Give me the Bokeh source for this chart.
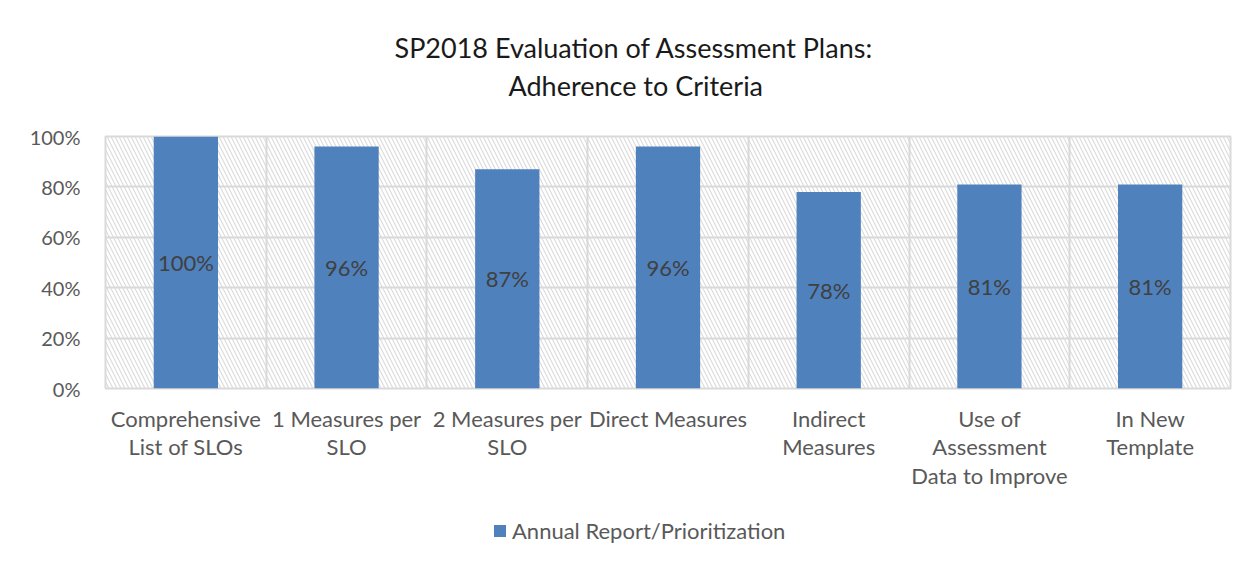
from bokeh.plotting import figure
from bokeh.layouts import column
from bokeh.models import (ColumnDataSource, BoxAnnotation, Title,
                          Legend, LegendItem, FixedTicker, NumeralTickFormatter)
from bokeh.embed import file_html
from bokeh.resources import INLINE
from bokeh.core.properties import value

categories = ["Comprehensive List of SLOs", "1 Measures per SLO", "2 Measures per SLO",
              "Direct Measures", "Indirect Measures", "Use of Assessment Data to Improve",
              "In New Template"]
tick_labels = ["Comprehensive\nList of SLOs", "1 Measures per\nSLO", "2 Measures per\nSLO",
               "Direct Measures", "Indirect\nMeasures", "Use of\nAssessment\nData to Improve",
               "In New\nTemplate"]
values = [1.00, 0.96, 0.87, 0.96, 0.78, 0.81, 0.81]
series_name = "Annual Report/Prioritization"
title_lines = ["SP2018 Evaluation of Assessment Plans:", "Adherence to Criteria"]
y_ticks = [0, 0.2, 0.4, 0.6, 0.8, 1.0]

FONT = "Lato"
GRID = "#d9d9d9"
TXT = "#595959"
BAR = "#4F81BD"

pos = list(range(len(categories)))
src = ColumnDataSource(dict(
    x=pos,
    val=values,
    mid=[v / 2 for v in values],
    lab=[f"{round(v * 100)}%" for v in values],
))

p = figure(x_range=(-0.5, len(categories) - 0.5), y_range=(0, 1.0),
           frame_width=1125, frame_height=252, output_backend="svg", toolbar_location=None,
           min_border_left=105, min_border_right=24, min_border_top=136, min_border_bottom=114)
p.background_fill_color = "white"
p.border_fill_color = "white"
p.outline_line_color = GRID
p.outline_line_width = 2

# hatched plot-area background
hatch = BoxAnnotation(fill_alpha=0, line_color=None, hatch_pattern="left_diagonal_line",
                      hatch_color="#dcdcdc", hatch_scale=8, hatch_weight=1.2, level="image")
p.add_layout(hatch)

# grids
p.ygrid.grid_line_color = GRID
p.ygrid.grid_line_width = 2
p.xgrid.grid_line_color = GRID
p.xgrid.grid_line_width = 2
p.xgrid.ticker = FixedTicker(ticks=[i + 0.5 for i in pos[:-1]])

bars = p.vbar(x="x", top="val", width=0.4, source=src, fill_color=BAR, line_color=None)
p.text(x="x", y="mid", text="lab", source=src, text_align="center", text_baseline="middle",
       text_font=value(FONT), text_font_size="22px", text_color="#404040")

# axes
p.yaxis.ticker = FixedTicker(ticks=y_ticks)
p.yaxis.formatter = NumeralTickFormatter(format="0%")
p.xaxis.ticker = FixedTicker(ticks=pos)
p.xaxis.major_label_overrides = {i: t for i, t in zip(pos, tick_labels)}
for ax in (p.xaxis[0], p.yaxis[0]):
    ax.axis_line_color = None
    ax.major_tick_line_color = None
    ax.minor_tick_line_color = None
    ax.major_label_text_font = FONT
    ax.major_label_text_color = TXT
p.yaxis.major_label_text_font_size = "20px"
p.xaxis.major_label_text_font_size = "22px"
p.xaxis.major_label_text_line_height = 1.07
p.yaxis.major_label_standoff = 19
p.xaxis.major_label_standoff = 10

# two-line title (first added sits closest to the plot frame)
p.add_layout(Title(text=title_lines[1], align="left", offset=403, text_font=FONT,
                   text_font_size="27px", text_font_style="normal", text_color="#1a1a1a",
                   standoff=69), "above")
p.add_layout(Title(text=title_lines[0], align="left", offset=289, text_font=FONT,
                   text_font_size="27px", text_font_style="normal", text_color="#1a1a1a",
                   standoff=-63), "above")

# legend strip below the chart (its bars lie below the strip's visible range)
lg = figure(width=1254, height=60, output_backend="svg", toolbar_location=None,
            x_axis_type=None, y_axis_type=None, min_border=0,
            x_range=(-0.5, len(categories) - 0.5), y_range=(5, 6))
lg.outline_line_color = None
lg.grid.grid_line_color = None
swatch = lg.vbar(x="x", top="val", width=0.4, source=src, fill_color=BAR, line_color=None)
legend = Legend(items=[LegendItem(label=series_name, renderers=[swatch])],
                location=(387, 18),
                label_text_font=FONT, label_text_font_size="22px", label_text_color=TXT,
                glyph_width=15, glyph_height=15, border_line_color=None,
                background_fill_alpha=0, margin=0, padding=4, label_standoff=5)
lg.add_layout(legend)

layout = column(p, lg, spacing=0)
open("out.html", "w").write(file_html(layout, INLINE))
